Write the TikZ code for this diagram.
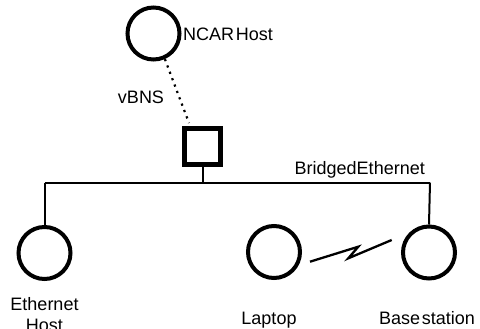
\documentclass[tikz,border=0pt]{standalone}
\usepackage{fontspec}
\setmainfont{Liberation Sans}
\begin{document}
\begin{tikzpicture}[x=1pt,y=-1pt,
  host/.style={circle,draw,line width=4pt,minimum size=52pt,inner sep=0pt},
  bridge/.style={rectangle,draw,line width=4.5pt,minimum size=36pt,inner sep=0pt},
  lbl/.style={inner sep=0pt,font=\fontsize{18}{21}\selectfont},
  wire/.style={line width=2pt},
  radio/.style={line width=2.3pt,line join=miter},
  air/.style={line width=2.2pt,dash pattern=on 2.2pt off 4.6pt}]
\useasboundingbox (0,0) rectangle (480,329);
% hosts
\node[host] (ncar) at (153.5,33.5) {};
\node[host] (eth) at (44.5,253) {};
\node[host] (lap) at (274,252) {};
\node[host] (base) at (429,252.5) {};
\node[bridge] (sq) at (202.5,146.5) {};
% bus
\coordinate (busL) at (44.5,182.5);
\coordinate (busM) at (202.5,182.5);
\coordinate (busR) at (430,182.5);
\draw[wire] (busL) -- (busR);
\draw[wire] (sq.south) -- (busM);
\draw[wire] (busL) -- (eth.north);
\draw[wire] (busR) -- (base.north);
% vBNS dotted link
\coordinate (vend) at (189,123);
\draw[air] (ncar.-66) -- (vend);
% wireless link
\coordinate (z1) at (310,261.7);
\coordinate (z2) at (358.3,246.7);
\coordinate (z3) at (348.3,258.3);
\coordinate (z4) at (391.7,240);
\draw[radio] (z1) -- (z2) -- (z3) -- (z4);
% labels
\node[lbl,anchor=base west] (lncar) at (183,40.7) {NCAR\hspace{0.1em}Host};
\node[lbl,anchor=base] (lvbns) at (141,104) {vBNS};
\node[lbl,anchor=base east] (lbus) at (425,174.3) {BridgedEthernet};
\node[lbl,anchor=base] (leth) at (44.5,310) {Ethernet};
\node[lbl,anchor=base] (lhost) at (44.5,331) {Host};
\node[lbl,anchor=base] (llap) at (269,324) {Laptop};
\node[lbl,anchor=base] (lbase) at (427,324) {Base\hspace{0.1em}station};
\end{tikzpicture}
\end{document}
